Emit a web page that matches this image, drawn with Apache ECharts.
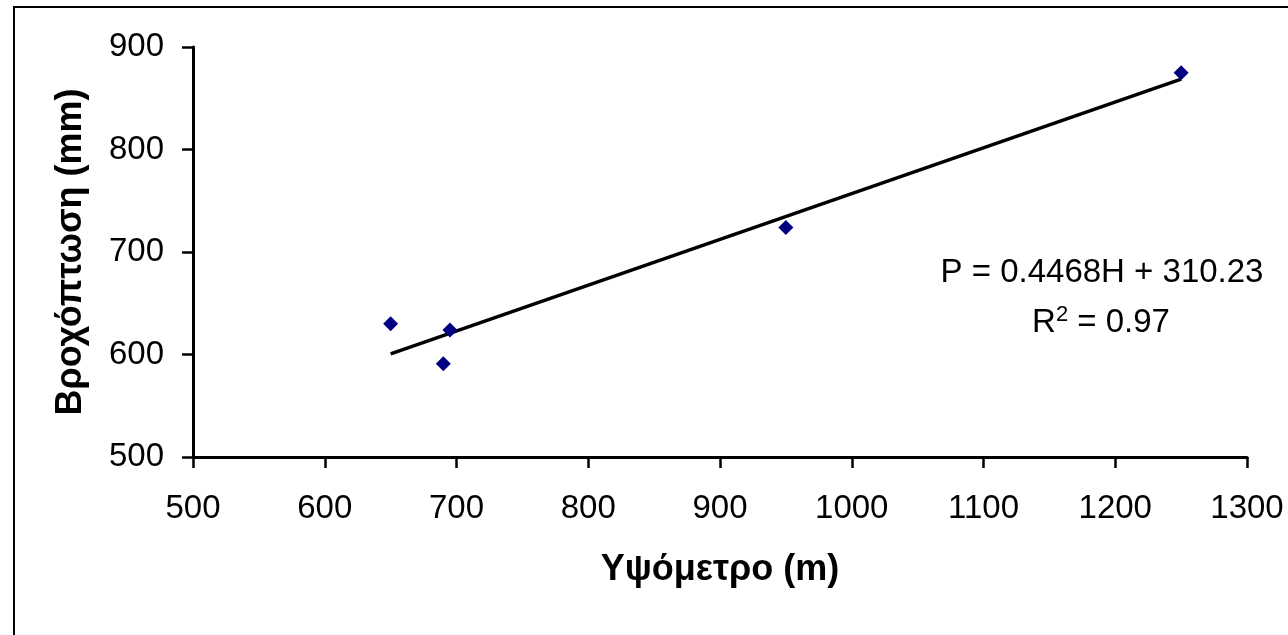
<!DOCTYPE html>
<html>
<head>
<meta charset="utf-8">
<script src="https://cdn.jsdelivr.net/npm/echarts@6/dist/echarts.min.js"></script>
<style>
  html, body { margin: 0; padding: 0; background: #fff; }
  #ec { width: 1288px; height: 635px; }
</style>
</head>
<body>
<div id="ec"></div>
<script>
// stations: altitude (m) and rainfall (mm)
const altitude = [650, 690, 695, 950, 1250];
const rainfall = [630, 591, 624, 724, 875];
// linear trend ends
const trendH = [650, 1250];
const trendP = [600.6, 868.7];
const xTicks = [500, 1300, 100];
const yTicks = [500, 900, 100];
const equation = "P = 0.4468H + 310.23";
const r2 = "0.97";

const fontFam = "Liberation Sans, Arial, sans-serif";
const chart = echarts.init(document.getElementById("ec"));

chart.setOption({
  animation: false,
  backgroundColor: "#fff",
  grid: { left: 193, right: 41, top: 47, bottom: 178 },
  xAxis: {
    type: "value",
    min: xTicks[0],
    max: xTicks[1],
    interval: xTicks[2],
    name: "Υψόμετρο (m)",
    nameLocation: "middle",
    nameGap: 95,
    nameTextStyle: { fontFamily: fontFam, fontSize: 36, fontWeight: "bold", color: "#000" },
    axisLine: { lineStyle: { color: "#000", width: 3 } },
    axisTick: { show: true, length: 11, lineStyle: { color: "#000", width: 2.5 } },
    axisLabel: { fontFamily: fontFam, fontSize: 33, color: "#000", margin: 35, formatter: (v) => String(v) },
    splitLine: { show: false },
  },
  yAxis: {
    type: "value",
    min: yTicks[0],
    max: yTicks[1],
    interval: yTicks[2],
    name: "Βροχόπτωση (mm)",
    nameLocation: "middle",
    nameGap: 104,
    nameRotate: 90,
    nameTextStyle: { fontFamily: fontFam, fontSize: 36, fontWeight: "bold", color: "#000" },
    axisLine: { show: true, lineStyle: { color: "#000", width: 3 } },
    axisTick: { show: true, length: 11, lineStyle: { color: "#000", width: 2.5 } },
    axisLabel: { fontFamily: fontFam, fontSize: 33, color: "#000", margin: 29, formatter: (v) => String(v) },
    splitLine: { show: false },
  },
  graphic: [
    {
      type: "rect",
      shape: { x: 14, y: 7, width: 1300, height: 700 },
      style: { fill: "none", stroke: "#000", lineWidth: 2 },
      silent: true,
    },
    {
      type: "text",
      x: 1102,
      y: 273,
      style: {
        text: equation,
        fontFamily: fontFam,
        fontSize: 33,
        fill: "#000",
        align: "center",
        verticalAlign: "middle",
      },
    },
    {
      type: "text",
      x: 1101,
      y: 323,
      style: {
        text: "R{sup|2} = " + r2,
        fontFamily: fontFam,
        fontSize: 33,
        fill: "#000",
        align: "center",
        verticalAlign: "middle",
        rich: {
          sup: { fontFamily: fontFam, fontSize: 22, verticalAlign: "bottom", padding: [0, 0, 16, 0] },
        },
      },
    },
  ],
  series: [
    {
      name: "trend",
      type: "line",
      data: trendH.map((h, i) => [h, trendP[i]]),
      showSymbol: false,
      symbol: "none",
      lineStyle: { color: "#000", width: 3.5 },
      z: 2,
    },
    {
      name: "stations",
      type: "scatter",
      data: altitude.map((h, i) => [h, rainfall[i]]),
      symbol: "diamond",
      symbolSize: 15,
      itemStyle: { color: "#000080", opacity: 1 },
      z: 3,
    },
  ],
});
</script>
</body>
</html>
